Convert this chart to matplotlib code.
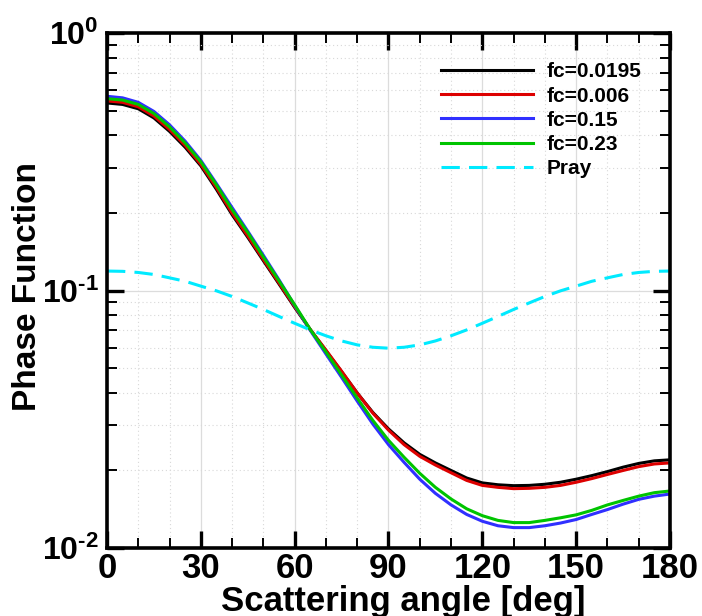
import numpy as np
import matplotlib
matplotlib.use("Agg")
import matplotlib.pyplot as plt
from matplotlib.ticker import FixedLocator, FuncFormatter, LogLocator, NullFormatter

# -----------------------
# Data
# -----------------------
angle = [0, 5, 10, 15, 20, 25, 30, 35, 40, 45, 50, 55, 60, 65, 70, 75, 80, 85, 90,
         95, 100, 105, 110, 115, 120, 125, 130, 135, 140, 145, 150, 155, 160, 165,
         170, 175, 180]

fc_0195 = [0.535, 0.528, 0.508, 0.468, 0.415, 0.360, 0.305, 0.247, 0.197, 0.161,
           0.1305, 0.106, 0.086, 0.0705, 0.0584, 0.0484, 0.0400, 0.0336, 0.0290,
           0.0256, 0.0231, 0.0214, 0.0200, 0.0187, 0.0179, 0.0176, 0.01746, 0.0175,
           0.01768, 0.0180, 0.0185, 0.0191, 0.0198, 0.0206, 0.0213, 0.0218, 0.0220]

fc_006 = [0.545, 0.538, 0.517, 0.476, 0.422, 0.366, 0.309, 0.251, 0.200, 0.163,
          0.132, 0.107, 0.0865, 0.0705, 0.0587, 0.0486, 0.0400, 0.0334, 0.0287,
          0.0252, 0.0227, 0.0210, 0.0196, 0.0183, 0.0175, 0.0172, 0.0170, 0.01705,
          0.0172, 0.0175, 0.0180, 0.0186, 0.0193, 0.0200, 0.0207, 0.0212, 0.0214]

fc_015 = [0.568, 0.560, 0.538, 0.496, 0.440, 0.380, 0.320, 0.260, 0.210, 0.170,
          0.137, 0.110, 0.0875, 0.0700, 0.0567, 0.0460, 0.0372, 0.0303, 0.0252,
          0.0215, 0.0185, 0.0163, 0.0147, 0.0135, 0.0127, 0.0122, 0.0120, 0.0120,
          0.0122, 0.0125, 0.0129, 0.0135, 0.0141, 0.0148, 0.01545, 0.0159, 0.0162]

fc_023 = [0.556, 0.549, 0.528, 0.487, 0.432, 0.374, 0.316, 0.257, 0.206, 0.168,
          0.135, 0.109, 0.0880, 0.0705, 0.0577, 0.0470, 0.0382, 0.0313, 0.0262,
          0.0225, 0.0195, 0.0172, 0.0155, 0.0142, 0.01335, 0.0128, 0.01255, 0.01255,
          0.0128, 0.0131, 0.01345, 0.0140, 0.0147, 0.0153, 0.0159, 0.0164, 0.01665]

pray = [0.119, 0.1187, 0.1175, 0.1154, 0.112, 0.1086, 0.104, 0.0997, 0.0948, 0.0895,
        0.0844, 0.0793, 0.0746, 0.0703, 0.0667, 0.0637, 0.0615, 0.0602, 0.0597,
        0.0602, 0.0615, 0.0637, 0.0667, 0.0703, 0.0746, 0.0793, 0.0844, 0.0895,
        0.0948, 0.0997, 0.104, 0.1086, 0.112, 0.1154, 0.1175, 0.1187, 0.119]

x_ticks = [0, 30, 60, 90, 120, 150, 180]
y_ticks = [1e-2, 1e-1, 1e0]
y_labels = [r"$\mathbf{10^{\text{-}2}}$", r"$\mathbf{10^{\text{-}1}}$", r"$\mathbf{10^{0}}$"]

# -----------------------
# Style
# -----------------------
plt.rcParams["font.family"] = ["Liberation Sans", "DejaVu Sans"]
plt.rcParams["font.weight"] = "bold"
plt.rcParams["mathtext.fontset"] = "custom"
plt.rcParams["mathtext.bf"] = "Liberation Sans:bold"
plt.rcParams["mathtext.rm"] = "Liberation Sans:bold"

fig = plt.figure(figsize=(7.02, 6.16), dpi=100)
ax = fig.add_axes([0.1524, 0.1104, 0.8020, 0.8360])

ax.plot(angle, fc_0195, color="black", lw=2.2, label="fc=0.0195")
ax.plot(angle, fc_006, color="#dd0000", lw=2.2, label="fc=0.006")
ax.plot(angle, fc_015, color="#3030ff", lw=2.2, label="fc=0.15")
ax.plot(angle, fc_023, color="#00c400", lw=2.2, label="fc=0.23")
ax.plot(angle, pray, color="#00eaff", lw=2.2, dashes=(6, 3), label="Pray")

ax.set_yscale("log")
ax.set_xlim(0, 180)
ax.set_ylim(1e-2, 1e0)

# -----------------------
# Ticks and grid
# -----------------------
ax.xaxis.set_major_locator(FixedLocator(x_ticks))
ax.xaxis.set_minor_locator(FixedLocator(np.arange(0, 181, 10)))
ax.yaxis.set_major_locator(FixedLocator(y_ticks))
ax.yaxis.set_major_formatter(FuncFormatter(lambda v, p: y_labels[y_ticks.index(v)] if v in y_ticks else ""))
ax.yaxis.set_minor_locator(LogLocator(base=10, subs=np.arange(2, 10)))
ax.yaxis.set_minor_formatter(NullFormatter())

ax.tick_params(which="major", direction="in", length=12, width=2.4,
               top=True, right=True)
ax.tick_params(axis="x", which="major", labelsize=25, pad=3)
ax.tick_params(axis="y", which="major", labelsize=23, pad=6)
ax.tick_params(which="minor", direction="in", length=7, width=1.4,
               top=True, right=True)
for lab in ax.get_xticklabels():
    lab.set_fontweight("bold")

ax.grid(which="major", color="#dcdcdc", lw=0.9, ls="-")
ax.grid(which="minor", color="#d8d8d8", lw=0.8, ls=(0, (1, 2.5)))
ax.set_axisbelow(True)

for s in ax.spines.values():
    s.set_linewidth(2.6)

ax.set_xlabel("Scattering angle [deg]", fontsize=25, fontweight="bold")
ax.set_ylabel("Phase Function", fontsize=24, fontweight="bold")
ax.xaxis.set_label_coords(0.527, -0.103)
ax.yaxis.set_label_coords(-0.142, 0.508)
ax.xaxis.label.set_va("center")
ax.yaxis.label.set_va("center")

leg = ax.legend(loc="upper left", bbox_to_anchor=(0.593, 0.943), frameon=False,
                fontsize=15, handlelength=4.4, handletextpad=0.7,
                labelspacing=0.25, borderpad=0, borderaxespad=0)
for t in leg.get_texts():
    t.set_fontweight("bold")

fig.savefig("out.png", dpi=100)
